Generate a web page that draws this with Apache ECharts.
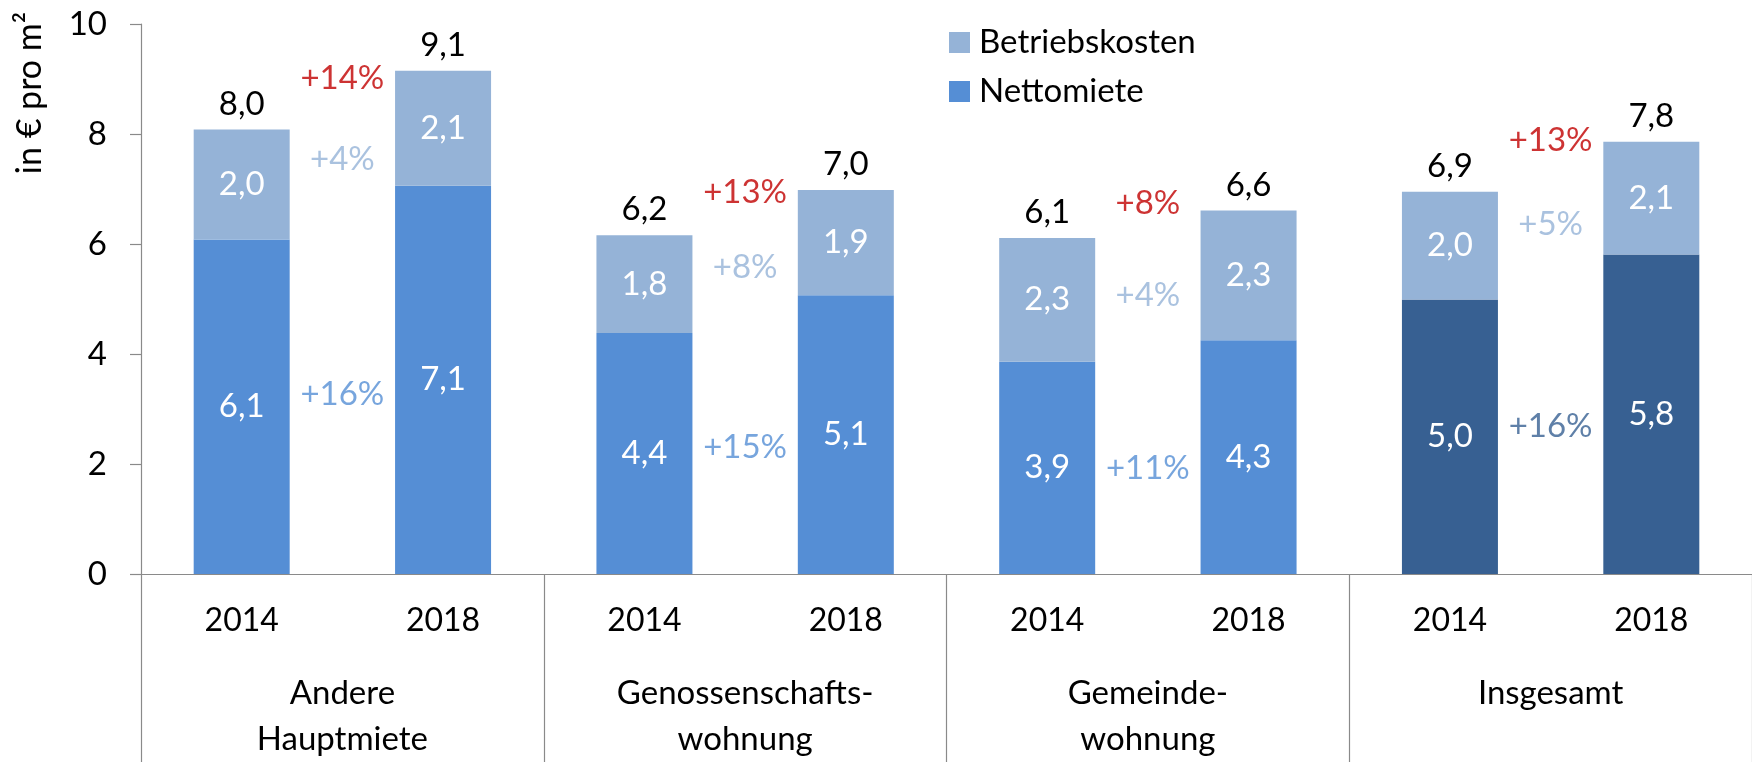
<!DOCTYPE html>
<html>
<head>
<meta charset="utf-8">
<script src="https://cdn.jsdelivr.net/npm/echarts@6/dist/echarts.min.js"></script>
<style>
  html, body { margin: 0; padding: 0; background: #fff; }
  #main { width: 1752px; height: 762px; }
</style>
</head>
<body>
<div id="main"></div>
<script>
// Daten (in Euro pro m2)
var years = ['2014', '2018', '2014', '2018', '2014', '2018', '2014', '2018'];
var groups = ['Andere\nHauptmiete', 'Genossenschafts-\nwohnung', 'Gemeinde-\nwohnung', 'Insgesamt'];
var nettomiete = [6.08, 7.06, 4.38, 5.07, 3.86, 4.25, 4.99, 5.81];
var betriebskosten = [2.00, 2.09, 1.78, 1.91, 2.25, 2.36, 1.96, 2.05];
var nettoLabels = ['6,1', '7,1', '4,4', '5,1', '3,9', '4,3', '5,0', '5,8'];
var betriebLabels = ['2,0', '2,1', '1,8', '1,9', '2,3', '2,3', '2,0', '2,1'];
var totalLabels = ['8,0', '9,1', '6,2', '7,0', '6,1', '6,6', '6,9', '7,8'];
// Veraenderung 2014 -> 2018, zwischen den Saeulen
var pctGesamt = ['+14%', '+13%', '+8%', '+13%'];
var pctGesamtY = [9.02, 6.94, 6.73, 7.88];
var pctBetrieb = ['+4%', '+8%', '+4%', '+5%'];
var pctBetriebY = [7.54, 5.57, 5.06, 6.35];
var pctNetto = ['+16%', '+15%', '+11%', '+16%'];
var pctNettoY = [3.27, 2.30, 1.925, 2.68];
var yTicks = [0, 2, 4, 6, 8, 10];

var FONT = 'Lato';
var cLight = '#95B3D7', cMid = '#558ED5', cDark = '#376092', cRed = '#C00000';
var axisGray = '#8a8a8a';

function pctSeries(name, labels, ys, color, lastColor) {
  return {
    name: name, type: 'scatter', xAxisIndex: 2, symbolSize: 0, silent: true,
    data: ys.map(function (y, i) {
      var col = (lastColor && i === 3) ? lastColor : color;
      return { value: [2 * i + 0.5, y], label: { color: col } };
    }),
    label: {
      show: true, position: 'inside', fontFamily: FONT, fontSize: 33,
      formatter: function (p) { return labels[p.dataIndex]; }
    },
    z: 5
  };
}

var chart = echarts.init(document.getElementById('main'));
var option = {
  animation: false,
  backgroundColor: '#fff',
  textStyle: { fontFamily: FONT },
  legend: {
    data: ['Betriebskosten', 'Nettomiete'],
    orient: 'vertical', left: 949, top: 26, padding: 0,
    icon: 'rect', itemWidth: 21, itemHeight: 21, itemGap: 16,
    textStyle: { fontFamily: FONT, fontSize: 33, color: '#000', lineHeight: 33, padding: [0, 0, 0, 4] }
  },
  grid: { left: 141, top: 24, width: 1622, height: 553.3 },
  xAxis: [
    {
      type: 'category', data: years, position: 'bottom',
      axisLine: { onZero: false, lineStyle: { color: axisGray, width: 1.2 } },
      axisTick: { show: false },
      axisLabel: { fontFamily: FONT, fontSize: 32, color: '#000', margin: 31 }
    },
    {
      type: 'category', data: groups, position: 'bottom',
      axisLine: { show: false, onZero: false },
      axisTick: { show: true, length: 190, interval: 0, lineStyle: { color: axisGray, width: 1.2 } },
      axisLabel: { fontFamily: FONT, fontSize: 33, color: '#000', margin: 97, lineHeight: 45.5, interval: 0 }
    },
    { type: 'value', min: -0.5, max: 7.5, show: false, axisLine: { onZero: false } }
  ],
  yAxis: {
    type: 'value', min: 0, max: 10, interval: 2,
    axisLine: { show: true, onZero: false, lineStyle: { color: axisGray, width: 1.2 } },
    axisTick: { show: true, length: 11, lineStyle: { color: axisGray, width: 1.2 } },
    splitLine: { show: false },
    axisLabel: {
      fontFamily: FONT, fontSize: 33, color: '#000', margin: 34,
      formatter: function (v) { return yTicks.indexOf(v) >= 0 ? String(v) : ''; }
    }
  },
  graphic: [{
    type: 'text', x: 30, y: 93, rotation: Math.PI / 2,
    style: {
      text: 'in € pro m²', fontFamily: FONT, fontSize: 34, fill: '#000',
      align: 'center', verticalAlign: 'middle'
    }
  }],
  series: [
    {
      name: 'Nettomiete', type: 'bar', stack: 'miete', barWidth: 96,
      itemStyle: { color: cMid },
      data: nettomiete.map(function (v, i) {
        return i >= 6 ? { value: v, itemStyle: { color: cDark } } : v;
      }),
      label: {
        show: true, position: 'inside', color: '#fff', fontFamily: FONT, fontSize: 33,
        formatter: function (p) { return nettoLabels[p.dataIndex]; }
      }
    },
    {
      name: 'Betriebskosten', type: 'bar', stack: 'miete', barWidth: 96,
      itemStyle: { color: cLight },
      data: betriebskosten,
      label: {
        show: true, position: 'inside', color: '#fff', fontFamily: FONT, fontSize: 33,
        formatter: function (p) { return betriebLabels[p.dataIndex]; }
      }
    },
    {
      // Summe: Balken der Hoehe 0 oben auf dem Stapel, nur fuer die Beschriftung
      name: 'Summe', type: 'bar', stack: 'miete', barWidth: 96, silent: true,
      itemStyle: { color: 'rgba(0,0,0,0)' },
      data: years.map(function () { return 0; }),
      label: {
        show: true, position: 'top', distance: 9, color: '#000', fontFamily: FONT, fontSize: 33,
        formatter: function (p) { return totalLabels[p.dataIndex]; }
      }
    },
    pctSeries('Gesamt %', pctGesamt, pctGesamtY, cRed),
    pctSeries('Betrieb %', pctBetrieb, pctBetriebY, cLight),
    pctSeries('Netto %', pctNetto, pctNettoY, cMid, cDark)
  ]
};
chart.setOption(option);
</script>
</body>
</html>
